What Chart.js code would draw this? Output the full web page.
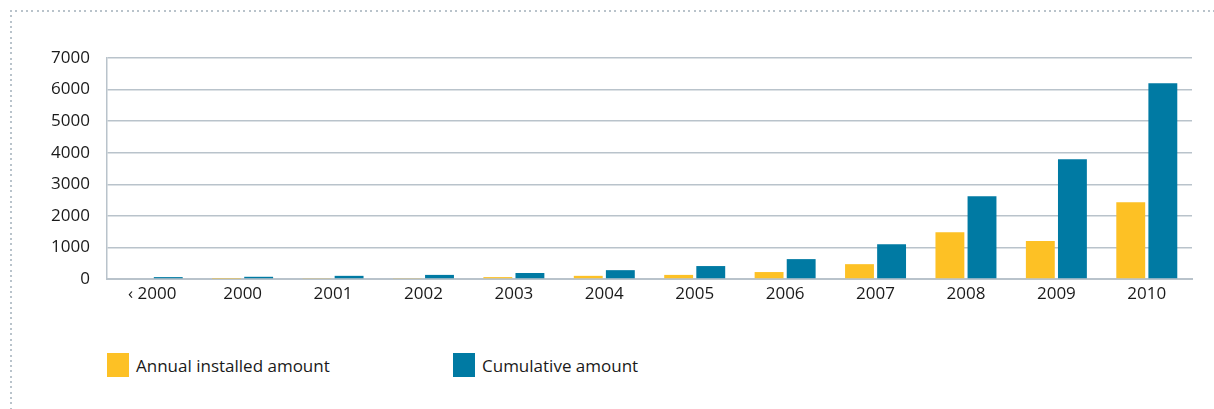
<!DOCTYPE html>
<html>
<head>
<meta charset="utf-8">
<script src="https://cdn.jsdelivr.net/npm/chart.js@4/dist/chart.umd.min.js"></script>
<style>
  html, body { margin: 0; padding: 0; background: #fff; }
  body { width: 1214px; height: 409px; position: relative; overflow: hidden; font-family: "Open Sans", "DejaVu Sans", sans-serif; }
  .dot-top { position: absolute; left: 10px; top: 10px; width: 1204px; height: 2px;
    background-image: repeating-linear-gradient(to right, #b9c3cb 0 2px, transparent 2px 5.3px); }
  .dot-left { position: absolute; left: 10px; top: 10px; width: 2px; height: 399px;
    background-image: repeating-linear-gradient(to bottom, #b9c3cb 0 2px, transparent 2px 5.3px); }
  #wrap { position: absolute; left: 0; top: 0; width: 1214px; height: 320px; }
  #legend { position: absolute; top: 353px; left: 107px; height: 24px; }
  .item { position: absolute; top: 0; display: flex; align-items: center; white-space: nowrap; font-size: 17px; color: #1a1a1a; }
  .sw { width: 22px; height: 24px; margin-right: 7px; }
</style>
</head>
<body>
<div class="dot-top"></div>
<div class="dot-left"></div>
<div id="wrap"><canvas id="c" width="1214" height="320"></canvas></div>
<div id="legend"></div>
<script>
const categories = ["‹ 2000", "2000", "2001", "2002", "2003", "2004", "2005", "2006", "2007", "2008", "2009", "2010"];
const annualInstalled = [0, 10, 30, 30, 60, 100, 130, 220, 470, 1480, 1200, 2430];
const cumulativeAmount = [60, 70, 100, 130, 190, 280, 410, 630, 1100, 2620, 3790, 6200];
const yTicks = [0, 1000, 2000, 3000, 4000, 5000, 6000, 7000];
const seriesLabels = ["Annual installed amount", "Cumulative amount"];
const seriesColors = ["#fdc125", "#007aa3"];

const gridColor = "#b9c3cb";
const ctx = document.getElementById("c");
const chart = new Chart(ctx, {
  type: "bar",
  data: {
    labels: categories,
    datasets: [
      { label: seriesLabels[0], data: annualInstalled, backgroundColor: seriesColors[0], borderWidth: 0 },
      { label: seriesLabels[1], data: cumulativeAmount, backgroundColor: seriesColors[1], borderWidth: 0 }
    ]
  },
  options: {
    responsive: false,
    animation: false,
    devicePixelRatio: 1,
    layout: { padding: { left: 0, right: 22, top: 58, bottom: 0 } },
    datasets: { bar: { categoryPercentage: 0.71, barPercentage: 0.9 } },
    plugins: { legend: { display: false }, tooltip: { enabled: false } },
    scales: {
      x: {
        grid: { display: false, drawTicks: false },
        border: { display: true, color: gridColor, width: 2 },
        ticks: { color: "#1a1a1a", font: { family: "Open Sans", size: 17 }, padding: 5, maxRotation: 0 },
        afterFit(scale) { scale.height = 41; }
      },
      y: {
        min: 0, max: 7000,
        afterBuildTicks(scale) { scale.ticks = yTicks.map(v => ({ value: v })); },
        grid: { color: gridColor, lineWidth: 1.5, drawTicks: false },
        border: { display: true, color: gridColor, width: 1.5 },
        ticks: { color: "#1a1a1a", font: { family: "Open Sans", size: 17 }, padding: 17, callback: v => String(v) },
        afterFit(scale) { scale.width = 107; }
      }
    }
  }
});

const legend = document.getElementById("legend");
const offsets = [0, 346];
chart.data.datasets.forEach((ds, i) => {
  const it = document.createElement("div");
  it.className = "item";
  it.style.left = offsets[i] + "px";
  const sw = document.createElement("span");
  sw.className = "sw";
  sw.style.background = ds.backgroundColor;
  const tx = document.createElement("span");
  tx.textContent = ds.label;
  it.appendChild(sw); it.appendChild(tx);
  legend.appendChild(it);
});
</script>
</body>
</html>
